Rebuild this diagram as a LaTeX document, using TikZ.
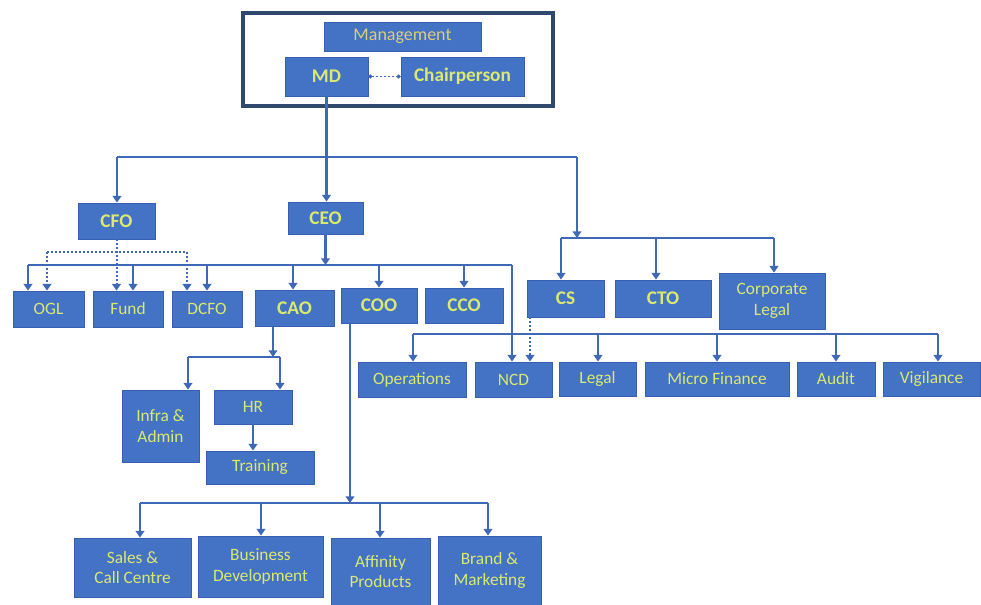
\documentclass[tikz,border=0pt]{standalone}
\usepackage{fontspec}
\setmainfont{Carlito}
\usetikzlibrary{arrows.meta}
\definecolor{boxfill}{RGB}{68,114,196}
\definecolor{boxline}{RGB}{55,95,175}
\definecolor{lbl}{RGB}{218,234,112}
\definecolor{mgmt}{RGB}{222,205,120}
\definecolor{wire}{RGB}{64,104,184}
\definecolor{framec}{RGB}{46,72,110}
\tikzset{
  box/.style={draw=boxline,line width=0.6pt,fill=boxfill,text=lbl,inner sep=0pt,align=center,
    font=\fontsize{13}{15.5}\selectfont},
  bbox/.style={box,font=\fontsize{14.5}{17}\selectfont\bfseries},
  conn/.style={draw=wire,line width=2.1pt},
  dconn/.style={draw=wire,line width=1.5pt,dash pattern=on 1.5pt off 1.5pt},
  tip/.style={-{Triangle[length=5pt,width=6.5pt]}},
  frm/.style={draw=framec,line width=2.4pt,fill=none,inner sep=0pt}
}
\newcommand\mybox[7][box]{\node[#1,minimum width={(#5-#3)*0.75pt},minimum height={(#6-#4)*0.75pt}] (#2) at ({(#3+#5)/2},{(#4+#6)/2}) {#7};}
\begin{document}
\begin{tikzpicture}[x=0.75pt,y=-0.75pt]
\useasboundingbox[fill=white] (0,0) rectangle (981,605);
% management frame
\mybox[frm]{frame}{243}{13}{553}{106}{}
\mybox[box,text=mgmt,font=\fontsize{13.5}{16}\selectfont]{mgmt}{324}{22}{481}{51}{Management}
\mybox[bbox]{MD}{285}{57}{368}{96}{MD}
\mybox[bbox]{chair}{401}{57}{524}{96}{Chairperson}
% level 2
\mybox[bbox]{CFO}{78}{203}{155}{239}{CFO}
\mybox[bbox]{CEO}{288}{202}{363}{234}{CEO}
% level 3
\mybox{OGL}{13}{291}{84}{327}{OGL}
\mybox{Fund}{93}{291}{163}{327}{Fund}
\mybox{DCFO}{172}{291}{242}{327}{DCFO}
\mybox[bbox]{CAO}{255}{290}{334}{326}{CAO}
\mybox[bbox]{COO}{341}{288}{417}{323}{COO}
\mybox[bbox]{CCO}{425}{288}{503}{323}{CCO}
\mybox[bbox]{CS}{527}{280}{604}{317}{CS}
\mybox[bbox]{CTO}{615}{280}{711}{317}{CTO}
\mybox{CL}{719}{273}{825}{329}{Corporate\\Legal}
% level 4
\mybox{Ops}{358}{362}{466}{397}{Operations}
\mybox{NCD}{475}{362}{552}{397}{NCD}
\mybox{Legal}{559}{362}{636}{396}{Legal}
\mybox{MF}{645}{362}{789}{396}{Micro Finance}
\mybox{Audit}{797}{362}{875}{396}{Audit}
\mybox{Vig}{883}{362}{980}{396}{Vigilance}
% CAO subtree
\mybox{Infra}{122}{390}{199}{462}{Infra \&\\Admin}
\mybox{HR}{214}{390}{292}{424}{HR}
\mybox{Train}{206}{451}{314}{484}{Training}
% COO subtree
\mybox{Sales}{74}{538}{191}{597}{Sales \&\\Call Centre}
\mybox{BD}{198}{536}{323}{597}{Business\\Development}
\mybox{Aff}{331}{538}{430}{605}{Affinity\\Products}
\mybox{Brand}{438}{536}{541}{605}{Brand \&\\Marketing}
% MD <-> Chairperson
\draw[dconn,line width=1.2pt,{Circle[length=3pt]}-{Circle[length=3pt]}] (MD.east) -- (chair.east -| chair.west);
% top bus
\coordinate (t1) at (117,157);
\coordinate (t2) at (577,157);
\coordinate (t3) at (577,238);
\draw[conn,tip] (MD.south) -- (MD.south |- CEO.north);
\draw[conn] (t1) -- (t2);
\draw[conn,tip] (t1) -- (t1 |- CFO.north);
\draw[conn,tip] (t2) -- (t3);
% CS / CTO / Corporate Legal bus
\coordinate (c1) at (561,238);
\coordinate (c2) at (656,238);
\coordinate (c3) at (774,238);
\draw[conn] (c1) -- (c3);
\draw[conn,tip] (c1) -- (c1 |- CS.north);
\draw[conn,tip] (c2) -- (c2 |- CTO.north);
\draw[conn,tip] (c3) -- (c3 |- CL.north);
% CEO bus
\coordinate (e0) at (CEO.south |- 0,265);
\coordinate (e1) at (28,265);
\coordinate (e2) at (133,265);
\coordinate (e3) at (207,265);
\coordinate (e4) at (293,265);
\coordinate (e5) at (379,265);
\coordinate (e6) at (464,265);
\coordinate (e7) at (512,265);
\draw[conn,tip] (CEO.south) -- (e0);
\draw[conn] (e1) -- (e7);
\draw[conn,tip] (e1) -- (e1 |- OGL.north);
\draw[conn,tip] (e2) -- (e2 |- Fund.north);
\draw[conn,tip] (e3) -- (e3 |- DCFO.north);
\draw[conn,tip] (e4) -- (e4 |- CAO.north);
\draw[conn,tip] (e5) -- (e5 |- COO.north);
\draw[conn,tip] (e6) -- (e6 |- CCO.north);
\draw[conn,tip] (e7) -- (e7 |- NCD.north);
% CFO dotted
\coordinate (f1) at (47,252);
\coordinate (f2) at (187,252);
\draw[dconn,tip] (CFO.south) -- (CFO.south |- Fund.north);
\draw[dconn] (f1) -- (f2);
\draw[dconn,tip] (f1) -- (f1 |- OGL.north);
\draw[dconn,tip] (f2) -- (f2 |- DCFO.north);
% CS dotted to NCD
\coordinate (g1) at (530,317);
\draw[dconn,tip] (g1) -- (g1 |- NCD.north);
% operations bus
\coordinate (o1) at (413,334);
\coordinate (o2) at (598,334);
\coordinate (o3) at (717,334);
\coordinate (o4) at (836,334);
\coordinate (o5) at (938,334);
\draw[conn] (o1) -- (o5);
\draw[conn,tip] (o1) -- (o1 |- Ops.north);
\draw[conn,tip] (o2) -- (o2 |- Legal.north);
\draw[conn,tip] (o3) -- (o3 |- MF.north);
\draw[conn,tip] (o4) -- (o4 |- Audit.north);
\draw[conn,tip] (o5) -- (o5 |- Vig.north);
% CAO subtree
\coordinate (a0) at (273,326);
\coordinate (a1) at (188,357);
\coordinate (a2) at (280,357);
\draw[conn,tip] (a0) -- (a0 |- a1);
\draw[conn] (a1) -- (a2);
\draw[conn,tip] (a1) -- (a1 |- Infra.north);
\draw[conn,tip] (a2) -- (a2 |- HR.north);
\draw[conn,tip] (HR.south) -- (HR.south |- Train.north);
% COO subtree
\coordinate (k0) at (350,323);
\coordinate (k1) at (140,503);
\coordinate (k2) at (261,503);
\coordinate (k3) at (380,503);
\coordinate (k4) at (488,503);
\draw[conn,tip] (k0) -- (k0 |- k1);
\draw[conn] (k1) -- (k4);
\draw[conn,tip] (k1) -- (k1 |- Sales.north);
\draw[conn,tip] (k2) -- (k2 |- BD.north);
\draw[conn,tip] (k3) -- (k3 |- Aff.north);
\draw[conn,tip] (k4) -- (k4 |- Brand.north);
\end{tikzpicture}
\end{document}
